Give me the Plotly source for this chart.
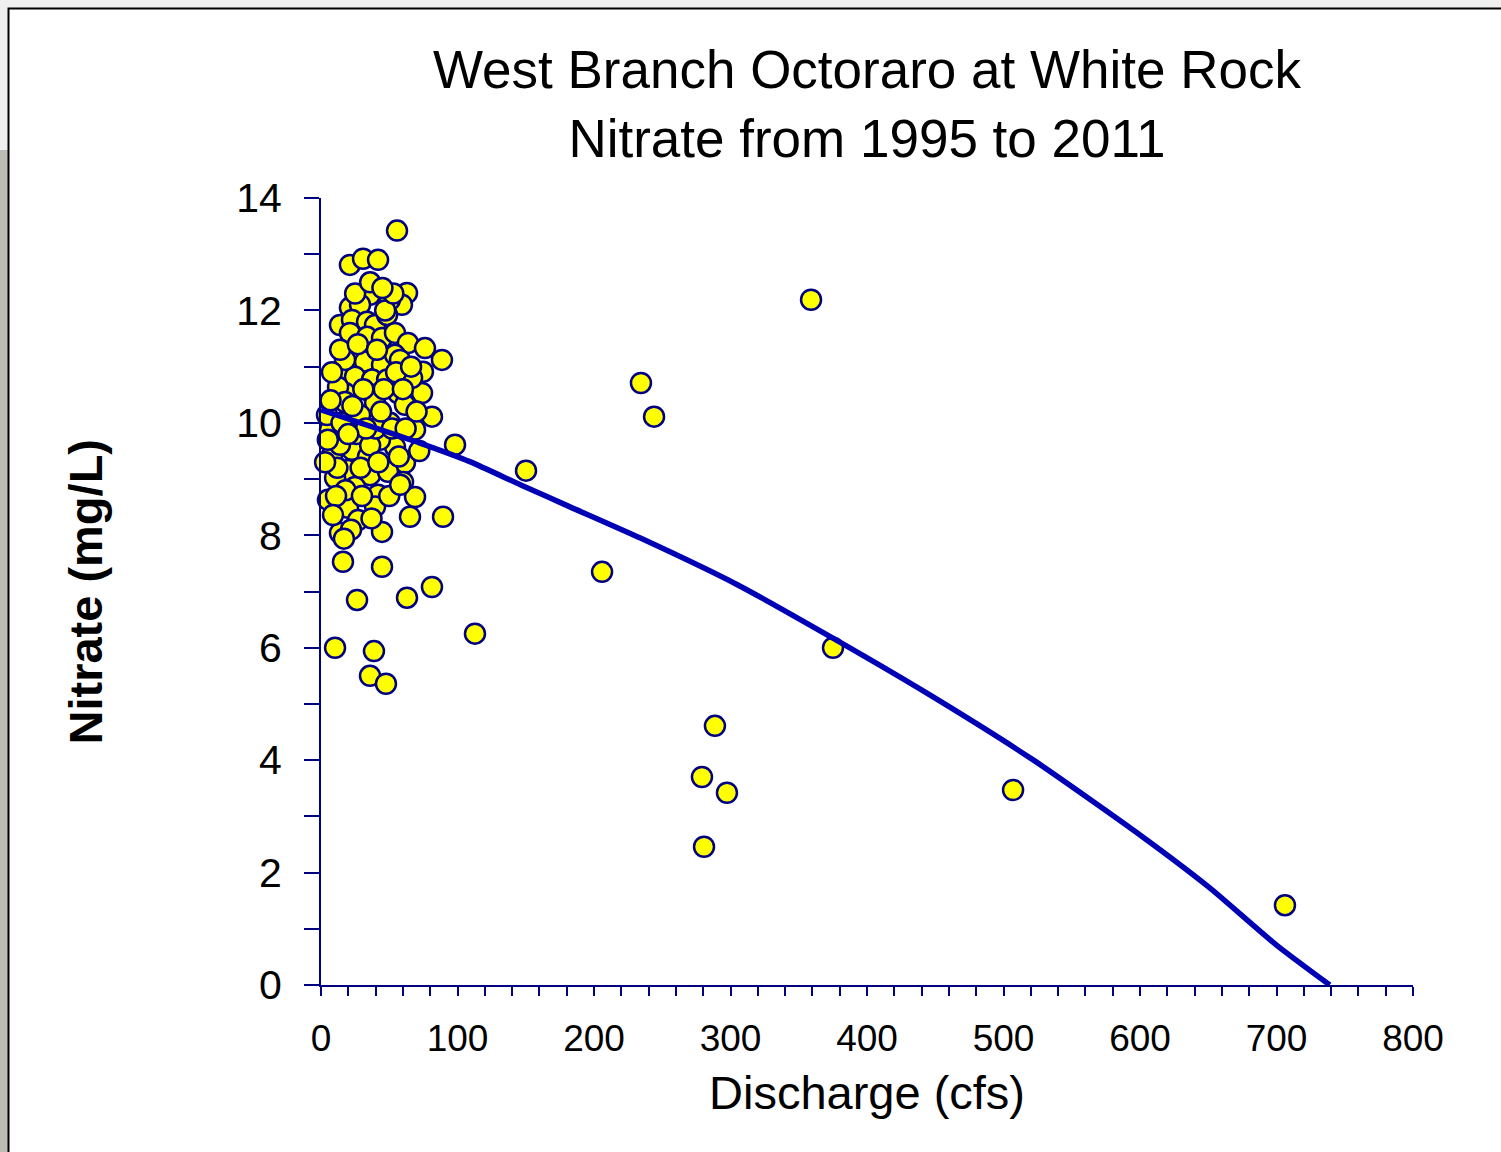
import plotly.graph_objects as go

# Scatter data: discharge (cfs) and nitrate (mg/L)
discharge = [35.9, 63.0, 59.3, 50.5, 21.2, 28.6, 13.9, 22.7, 33.7, 39.6, 48.4, 21.2, 33.7, 44.7,
             54.2, 63.7, 76.2, 88.6, 74.7, 19.8, 32.2, 44.7, 54.2, 15.4, 24.9, 37.4, 48.4, 59.3,
             17.6, 38.1, 56.4, 74.0, 12.5, 17.6, 39.6, 61.5, 81.3, 10.3, 32.2, 50.5, 68.9, 98.2,
             54.2, 8.1, 22.7, 34.4, 61.5, 19.8, 35.9, 49.1, 60.1, 10.3, 24.9, 41.8, 68.9, 10.3,
             19.8, 39.6, 65.2, 89.4, 27.1, 13.9, 44.7,
             6.6, 13.9, 28.6, 43.2, 17.6, 57.9, 66.7, 4.4, 5.1,
             5.0, 7.0, 12.0, 15.0, 18.0, 23.0, 26.0, 29.0, 31.0, 36.0, 40.0, 42.0, 46.0, 52.0,
             55.0, 57.0, 60.0, 66.0, 70.0, 72.0, 8.0, 14.0, 27.0, 41.0, 47.0, 53.0, 30.0, 22.0,
             37.0, 50.0, 11.0, 33.0, 44.0, 25.0, 62.0, 58.0, 3.0, 20.0, 36.0, 45.0,
             55.7, 21.2, 30.8, 41.8, 359.0, 234.4, 244.0, 150.2, 205.9, 375.1, 112.8, 288.6,
             279.1, 297.4, 280.6, 507.0, 706.2, 10.3, 38.8, 35.9, 47.6, 26.4, 63.0, 81.3,
             44.7, 16.1, 16.8, 8.8]
nitrate = [12.28, 12.31, 12.10, 12.19, 12.05, 12.10, 11.74, 11.83, 11.80, 11.74, 11.92, 11.60, 11.53, 11.51,
           11.60, 11.42, 11.33, 11.12, 10.91, 11.26, 11.09, 11.03, 11.21, 10.94, 10.82, 10.77, 10.77, 10.82,
           10.53, 10.50, 10.53, 10.53, 10.64, 10.37, 10.36, 10.32, 10.11, 9.96, 9.84, 10.00, 9.88, 9.61,
           9.57, 9.43, 9.52, 9.40, 9.29, 9.16, 9.07, 9.13, 8.95, 9.02, 8.86, 8.72, 8.68, 8.45,
           8.49, 8.51, 8.33, 8.33, 8.27, 8.04, 8.06,
           9.88, 9.61, 10.14, 9.70, 11.12, 11.12, 10.80, 10.14, 8.63,
           9.70, 10.40, 9.20, 10.00, 8.80, 10.30, 9.80, 9.20, 10.60, 9.60, 9.90, 9.30, 10.60, 9.90,
           10.90, 9.40, 10.60, 11.00, 10.20, 9.50, 10.90, 11.30, 11.40, 11.30, 12.00, 12.30, 8.70, 8.10,
           8.30, 8.70, 8.70, 9.90, 10.20, 12.30, 9.90, 8.90, 9.30, 9.80, 12.50, 12.40,
           13.42, 12.81, 12.92, 12.90, 12.19, 10.71, 10.11, 9.15, 7.35, 6.00, 6.25, 4.61,
           3.70, 3.42, 2.46, 3.47, 1.42, 6.00, 5.94, 5.50, 5.36, 6.85, 6.89, 7.08,
           7.44, 7.53, 7.94, 8.36]

# Trend line
trend_x = [0, 72.5, 109, 146, 182, 234, 305, 375, 446, 522, 600, 650, 700, 739]
trend_y = [10.23, 9.64, 9.31, 8.90, 8.51, 7.95, 7.12, 6.17, 5.16, 4.00, 2.67, 1.75, 0.71, 0.0]

x_ticks = [0, 100, 200, 300, 400, 500, 600, 700, 800]
y_ticks = [0, 2, 4, 6, 8, 10, 12, 14]

NAVY = "#000080"
FONT = "Liberation Sans, Arial, sans-serif"

fig = go.Figure()
fig.add_trace(go.Scatter(
    x=discharge, y=nitrate, mode="markers",
    marker=dict(size=20, color="#FFFF00", line=dict(color=NAVY, width=2.5)),
    showlegend=False, cliponaxis=False))
fig.add_trace(go.Scatter(
    x=trend_x, y=trend_y, mode="lines",
    line=dict(color="#0000B4", width=5.5, shape="spline", smoothing=0.6),
    showlegend=False, cliponaxis=False))

W, H = 1501, 1152
L, R, T, B = 321, 88, 198, 167
pw, ph = W - L - R, H - T - B

def px(x):
    return (x - L) / pw

def py(y):
    return (H - B - y) / ph

shapes = [
    dict(type="rect", xref="paper", yref="paper", x0=px(-20), x1=px(9), y0=py(2000), y1=py(150),
         fillcolor="#bdbdb5", line=dict(width=0), layer="below"),
    dict(type="rect", xref="paper", yref="paper", x0=px(8.5), x1=px(1700), y0=py(1600), y1=py(8.5),
         fillcolor="white", line=dict(color="black", width=2), layer="below"),
    dict(type="line", xref="paper", yref="paper", x0=0, x1=0, y0=py(996), y1=0,
         line=dict(color=NAVY, width=2)),
]

annotations = [
    dict(text="West Branch Octoraro at White Rock<br>Nitrate from 1995 to 2011",
         xref="paper", yref="paper", x=0.5, y=py(104), xanchor="center", yanchor="middle",
         showarrow=False, font=dict(family=FONT, size=53, color="black")),
    dict(text="<b>Nitrate (mg/L)</b>", xref="paper", yref="paper", x=px(85), y=0.5,
         xanchor="center", yanchor="middle", textangle=-90, showarrow=False,
         font=dict(family=FONT, size=47, color="black")),
    dict(text="Discharge (cfs)", xref="paper", yref="paper", x=0.5, y=py(1092),
         xanchor="center", yanchor="middle", showarrow=False,
         font=dict(family=FONT, size=47, color="black")),
]

fig.update_layout(
    width=W, height=H,
    margin=dict(l=L, r=R, t=T, b=B, pad=0),
    paper_bgcolor="#efefef", plot_bgcolor="rgba(0,0,0,0)",
    shapes=shapes, annotations=annotations,
    font=dict(family=FONT, color="black"),
)
fig.update_xaxes(
    range=[0, 800], tickvals=x_ticks, ticktext=[str(v) for v in x_ticks],
    showgrid=False, zeroline=False, showline=True, linecolor=NAVY, linewidth=2,
    ticks="outside", ticklen=9, tickwidth=2, tickcolor=NAVY,
    minor=dict(dtick=20, ticks="outside", ticklen=9, tickwidth=2, tickcolor=NAVY, showgrid=False),
    tickfont=dict(family=FONT, size=37, color="black"), ticklabelstandoff=11,
)
fig.update_yaxes(
    range=[0, 14], tickvals=y_ticks, ticktext=[str(v) for v in y_ticks],
    showgrid=False, zeroline=False, showline=True, linecolor=NAVY, linewidth=2,
    ticks="outside", ticklen=15, tickwidth=2, tickcolor=NAVY,
    minor=dict(dtick=1, ticks="outside", ticklen=15, tickwidth=2, tickcolor=NAVY, showgrid=False),
    tickfont=dict(family=FONT, size=41, color="black"), ticklabelstandoff=14,
)

fig.write_html("out.html")
